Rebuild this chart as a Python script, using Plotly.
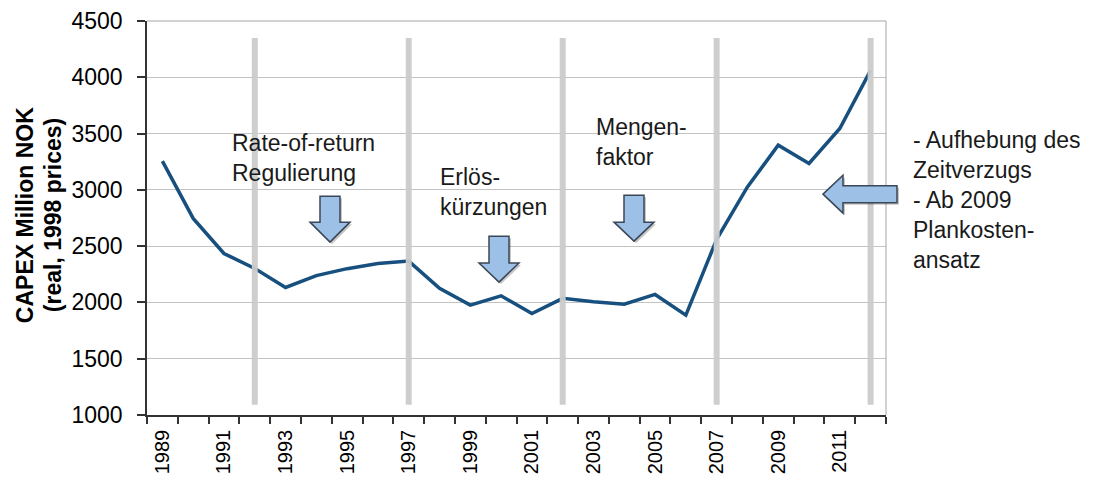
import plotly.graph_objects as go

years = list(range(1989, 2013))
capex = [3255, 2746, 2435, 2302, 2133, 2238, 2300, 2346, 2367, 2125, 1976, 2059,
         1902, 2036, 2006, 1985, 2071, 1887, 2560, 3026, 3397, 3234, 3545, 4062]
period_marks = [1992, 1997, 2002, 2007, 2012]
label_years = list(range(1989, 2012, 2))
y_ticks = [1000, 1500, 2000, 2500, 3000, 3500, 4000, 4500]

OFF = 8  # page body margin of the browser
W, H = 1103 - OFF, 477 - OFF
L, R, T, B = 147, 886, 20.7, 415  # plot area in window pixels
FONT = "Liberation Sans, Arial, sans-serif"


def px(x):
    return (x - L) / (R - L)


def py(y):
    return (B - y) / (B - T)


def path(points):
    return "M " + " L ".join(f"{px(x):.5f},{py(y):.5f}" for x, y in points) + " Z"


def down_arrow(cx, top, head_top, tip, sw=10, hw=20):
    return [(cx - sw, top), (cx + sw, top), (cx + sw, head_top), (cx + hw, head_top),
            (cx, tip), (cx - hw, head_top), (cx - sw, head_top)]


def left_arrow(tipx, cy, head_x, end_x, sh=8.5, hh=19):
    return [(tipx, cy), (head_x, cy - hh), (head_x, cy - sh), (end_x, cy - sh),
            (end_x, cy + sh), (head_x, cy + sh), (head_x, cy + hh)]


fig = go.Figure()
fig.add_trace(go.Scatter(x=years, y=capex, mode="lines",
                         line=dict(color="#17507f", width=3.5), hoverinfo="skip"))

shapes = []
for yr in period_marks:
    shapes.append(dict(type="line", xref="x", yref="y", x0=yr, x1=yr, y0=1090, y1=4350,
                       line=dict(color="rgba(203,203,203,0.95)", width=6), layer="above"))
shapes.append(dict(type="line", xref="paper", yref="paper", x0=0, x1=1, y0=1, y1=1,
                   line=dict(color="#a6a6a6", width=1)))
shapes.append(dict(type="line", xref="paper", yref="paper", x0=1, x1=1, y0=0, y1=1,
                   line=dict(color="#a6a6a6", width=1)))

arrows = [
    down_arrow(330, 196, 222, 242),
    down_arrow(499, 236, 263, 282),
    down_arrow(634, 195, 222, 241),
    left_arrow(823, 194, 843, 897),
]
for pts in arrows:
    shadow = [(x + 2, y + 2) for x, y in pts]
    shapes.append(dict(type="path", xref="paper", yref="paper", path=path(shadow),
                       fillcolor="rgba(0,0,0,0.22)", line=dict(width=0), layer="above"))
    shapes.append(dict(type="path", xref="paper", yref="paper", path=path(pts),
                       fillcolor="#9dc0e6", line=dict(color="#3b4756", width=1.5), layer="above"))

ann_font = dict(family=FONT, size=23, color="#1a1a1a")
annotations = [
    dict(text="Rate-of-return<br>Regulierung", x=px(230), y=py(158)),
    dict(text="Erlös-<br>kürzungen", x=px(438), y=py(192)),
    dict(text="Mengen-<br>faktor", x=px(594), y=py(142)),
    dict(text="- Aufhebung des<br>Zeitverzugs<br>- Ab 2009<br>Plankosten-<br>ansatz", x=px(911), y=py(200)),
]
for a in annotations:
    a.update(xref="paper", yref="paper", xanchor="left", yanchor="middle", align="left",
             showarrow=False, font=ann_font)

annotations.append(dict(text="<b>CAPEX Million NOK</b>", x=px(25), y=py(215), xref="paper", yref="paper",
                        xanchor="center", yanchor="middle", textangle=-90, showarrow=False,
                        font=dict(family=FONT, size=23, color="#000")))
annotations.append(dict(text="<b>(real, 1998 prices)</b>", x=px(53), y=py(215), xref="paper", yref="paper",
                        xanchor="center", yanchor="middle", textangle=-90, showarrow=False,
                        font=dict(family=FONT, size=23, color="#000")))

fig.update_layout(
    width=W, height=H,
    margin=dict(l=L - OFF, r=1103 - R, t=T - OFF, b=477 - B, pad=0, autoexpand=False),
    paper_bgcolor="white", plot_bgcolor="white",
    showlegend=False,
    shapes=shapes,
    annotations=annotations,
    font=dict(family=FONT, size=23, color="#000"),
    xaxis=dict(
        range=[1988.5, 2012.5], tickmode="array", tickvals=label_years,
        ticktext=[str(v) for v in label_years], tickangle=-90, automargin=False,
        ticks="outside", ticklen=5, tickcolor="rgba(0,0,0,0)",
        tickfont=dict(family=FONT, size=20, color="#000"),
        showgrid=False, zeroline=False,
        showline=True, linecolor="#333333", linewidth=1.5,
        minor=dict(tickmode="array", tickvals=[y + 0.5 for y in range(1988, 2013)],
                   ticks="outside", ticklen=7, tickcolor="#333333", tickwidth=1.5, showgrid=False),
    ),
    yaxis=dict(
        range=[1000, 4500], tickmode="array", tickvals=y_ticks, automargin=False,
        ticks="outside", ticklen=8, tickcolor="#333333", tickwidth=1.5,
        ticklabelstandoff=10,
        tickfont=dict(family=FONT, size=23, color="#000"),
        showgrid=True, gridcolor="#c3c3c3", gridwidth=1, zeroline=False,
        showline=True, linecolor="#333333", linewidth=1.5,
    ),
)

fig.write_html("out.html")
